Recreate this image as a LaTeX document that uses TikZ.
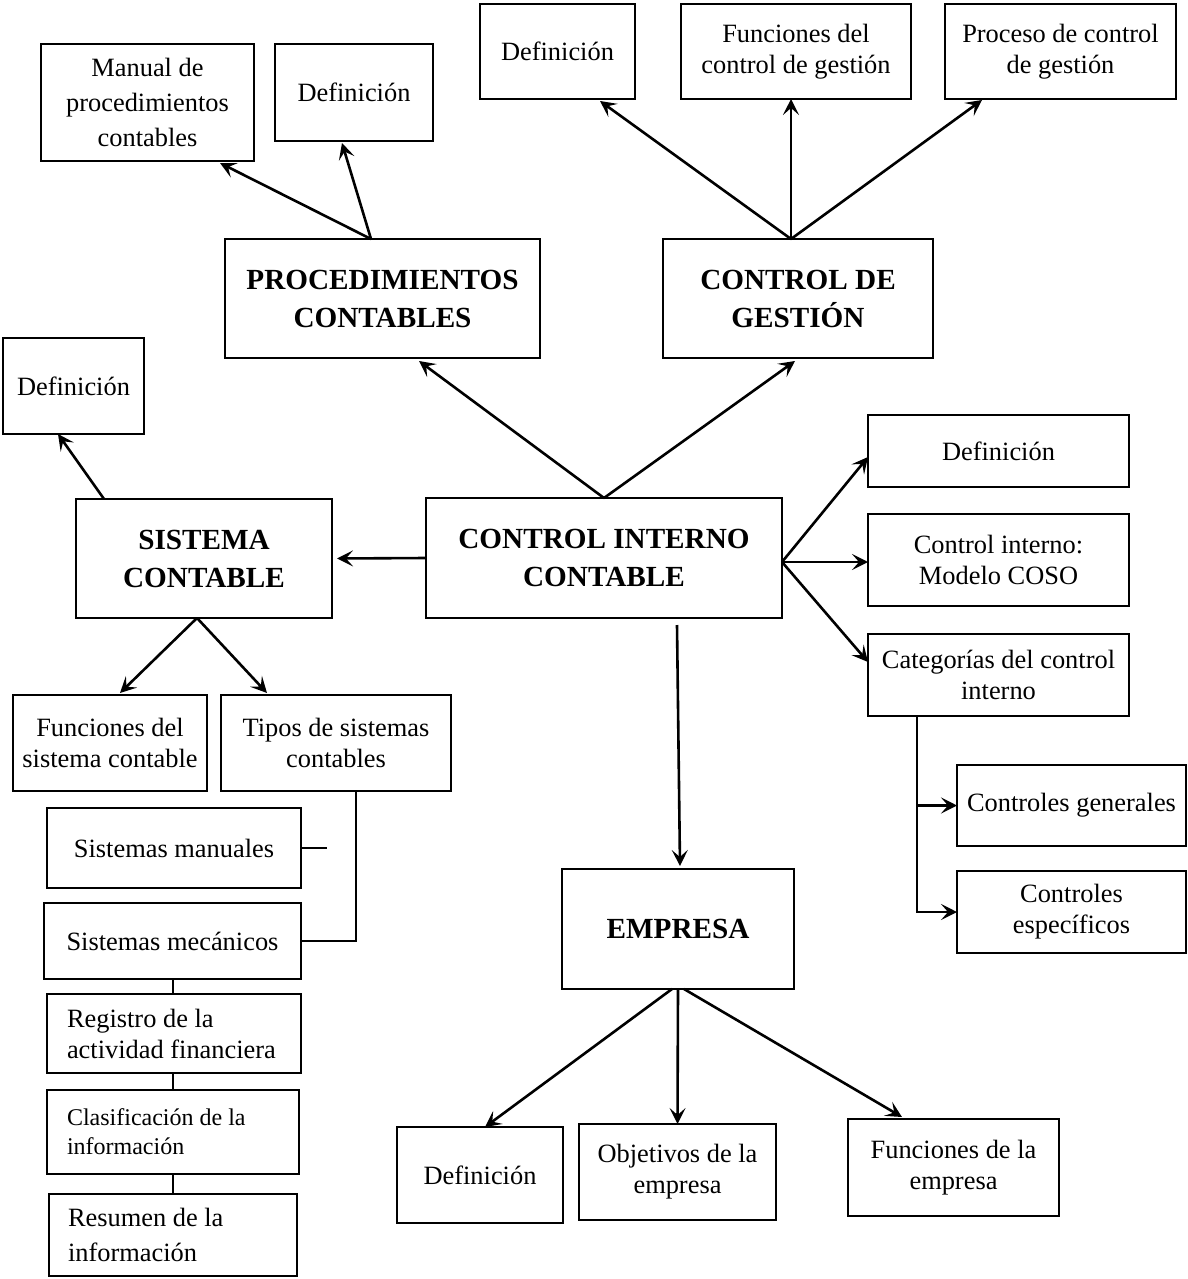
\documentclass[tikz,border=0pt]{standalone}
\usepackage{fontspec}
\setmainfont{Liberation Serif}
\usetikzlibrary{arrows.meta}
% a framed node given by its corners (x1,y1) and (x2,y2)
\newcommand\framednode[7]{%
  \pgfmathsetmacro\fncx{(#3+#5)/2}%
  \pgfmathsetmacro\fncy{(#4+#6)/2}%
  \pgfmathsetmacro\fnw{(#5-#3)/2}%
  \pgfmathsetmacro\fnh{(#6-#4)/2}%
  \node[#1, minimum width=\fnw pt, minimum height=\fnh pt] (#2) at (\fncx,\fncy) {#7};}
\begin{document}
\begin{tikzpicture}[x=0.5pt,y=-0.5pt,
  box/.style={draw, line width=0.75pt, inner sep=0pt, outer sep=0pt, align=center,
    font=\fontsize{13.2}{15.5}\selectfont},
  headbox/.style={box, font=\fontsize{14.6}{19}\selectfont\bfseries},
  leftbox/.style={box, align=flush left},
  arr/.style={line width=1.3pt, -{Stealth[length=8pt,width=8pt,inset=3.5pt]}},
  link/.style={line width=0.75pt}]

\useasboundingbox (0,0) rectangle (1188,1279);

% --- central node
\framednode{headbox}{ci}{426}{498}{782}{618}{CONTROL INTERNO\\CONTABLE}

% --- procedimientos contables
\framednode{headbox}{proc}{225}{239}{540}{358}{PROCEDIMIENTOS\\CONTABLES}
\framednode{box, font=\fontsize{13.2}{17.5}\selectfont}{manual}{41}{44}{254}{161}
  {Manual de\\procedimientos\\contables}
\framednode{box}{pcdef}{275}{44}{433}{141}{Definición}

% --- control de gestion
\framednode{headbox}{cg}{663}{239}{933}{358}{CONTROL DE\\GESTIÓN}
\framednode{box}{cgdef}{480}{4}{635}{99}{Definición}
\framednode{box}{cgfun}{681}{4}{911}{99}{Funciones del\\control de gestión}
\framednode{box}{cgproc}{945}{4}{1176}{99}{Proceso de control\\de gestión}

% --- sistema contable
\framednode{headbox}{sis}{76}{499}{332}{618}{SISTEMA\\CONTABLE}
\framednode{box}{sisdef}{3}{338}{144}{434}{Definición}
\framednode{box}{sisfun}{13}{695}{207}{791}{Funciones del\\sistema contable}
\framednode{box}{tipos}{221}{695}{451}{791}{Tipos de sistemas\\contables}
\framednode{box}{manuales}{47}{808}{301}{888}{Sistemas manuales}
\framednode{box}{mecanicos}{44}{903}{301}{979}{Sistemas mecánicos}
\framednode{leftbox, text width=107pt}{registro}{47}{994}{301}{1073}
  {Registro de la\\actividad financiera}
\framednode{leftbox, text width=106pt, font=\fontsize{12}{14.5}\selectfont}{clasif}{47}{1090}{299}{1174}
  {Clasificación de la\\información}
\framednode{leftbox, text width=105pt, font=\fontsize{13.2}{17.5}\selectfont}{resumen}{49}{1194}{297}{1276}
  {Resumen de la\\información}

% --- control interno: right branch
\framednode{box}{cidef}{868}{415}{1129}{487}{Definición}
\framednode{box}{coso}{868}{514}{1129}{606}{Control interno:\\Modelo COSO}
\framednode{box}{categ}{868}{634}{1129}{716}{Categorías del control\\interno}
\framednode{box}{cgen}{957}{765}{1186}{846}{Controles generales}
\framednode{box}{cesp}{957}{871}{1186}{953}{Controles\\específicos}

% --- empresa
\framednode{headbox}{emp}{562}{869}{794}{989}{EMPRESA}
\framednode{box}{empdef}{397}{1127}{563}{1223}{Definición}
\framednode{box}{empobj}{579}{1124}{776}{1220}{Objetivos de la\\empresa}
\framednode{box}{empfun}{848}{1119}{1059}{1216}{Funciones de la\\empresa}

% --- connectors from the central node
\draw[arr] (ci.north) -- ([xshift=18.25pt,yshift=-1.5pt]proc.south);
\draw[arr] (ci.north) -- ([xshift=-1.5pt,yshift=-1.5pt]cg.south);
\draw[arr] (ci.west) -- ([xshift=2.5pt]sis.east);
\draw[arr] ([yshift=-2pt]ci.east) -- ([yshift=-3pt]cidef.west);
\draw[arr] ([yshift=-2pt]ci.east) -- ([yshift=-1pt]coso.west);
\draw[arr] ([yshift=-2pt]ci.east) -- ([yshift=6.5pt]categ.west);
\draw[arr] ([xshift=36.5pt,yshift=-3.5pt]ci.south) -- ([xshift=1pt,yshift=1.5pt]emp.north);

% --- procedimientos contables
\draw[arr] ([xshift=-5.75pt]proc.north) -- ([xshift=36.25pt,yshift=-1pt]manual.south);
\draw[arr] ([xshift=-5.75pt]proc.north) -- ([xshift=-6pt,yshift=-1pt]pcdef.south);

% --- control de gestion
\draw[arr] ([xshift=-3.5pt]cg.north) -- ([xshift=21.25pt,yshift=-1pt]cgdef.south);
\draw[arr] ([xshift=-3.5pt]cg.north) -- ([xshift=-2.5pt]cgfun.south);
\draw[arr] ([xshift=-3.5pt]cg.north) -- ([xshift=-39.25pt,yshift=-0.5pt]cgproc.south);

% --- sistema contable
\draw[arr] ([xshift=-50pt]sis.north) -- ([xshift=-7.75pt]sisdef.south);
\draw[arr] ([xshift=-3.5pt]sis.south) -- ([xshift=5pt,yshift=1pt]sisfun.north);
\draw[arr] ([xshift=-3.5pt]sis.south) -- ([xshift=-34.5pt,yshift=1pt]tipos.north);
\draw[link] ([xshift=10pt]tipos.south) |- (mecanicos.east);
\draw[link] (manuales.east) -- ++(26,0);
\draw[link] (clasif.north |- mecanicos.south) -- (clasif.north |- registro.north);
\draw[link] (clasif.north |- registro.south) -- (clasif.north);
\draw[link] (clasif.south) -- (resumen.north);

% --- categorias del control interno
\draw[arr] ([xshift=-40.75pt]categ.south) |- (cesp.west);
\draw[arr] ([xshift=-40.75pt]categ.south) |- (cgen.west);

% --- empresa
\draw[arr] ([xshift=-3pt]emp.south) -- ([xshift=2.5pt]empdef.north);
\draw[arr] (emp.south) -- (empobj.north);
\draw[arr] ([xshift=3pt]emp.south) -- ([xshift=-25.75pt,yshift=1pt]empfun.north);
\end{tikzpicture}
\end{document}
